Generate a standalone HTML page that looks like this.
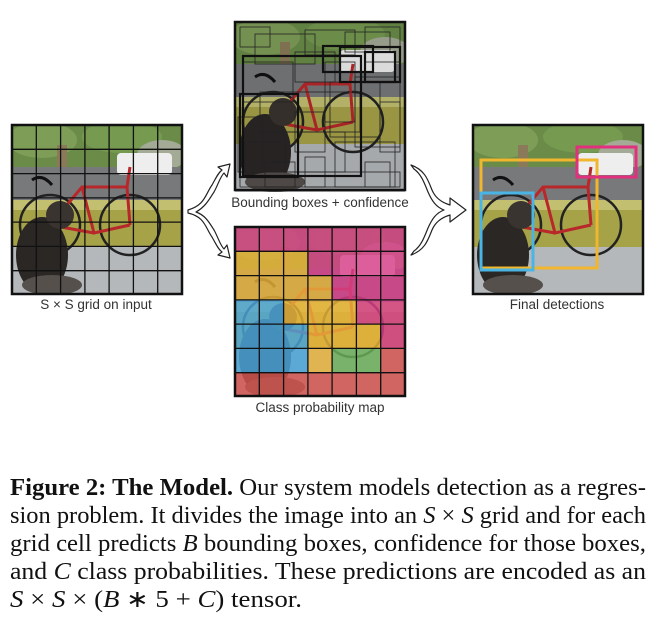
<!DOCTYPE html>
<html><head><meta charset="utf-8"><style>
html,body{margin:0;padding:0;background:#fff;}
svg{display:block;}
</style></head><body>
<svg width="666" height="636" viewBox="0 0 666 636" xmlns="http://www.w3.org/2000/svg">
<defs>
<clipPath id="pc"><rect x="0" y="0" width="170" height="170"/></clipPath>
<g id="photo">
 <g clip-path="url(#pc)">
 <rect x="0" y="0" width="170" height="170" fill="#7a8866"/>
 <rect x="0" y="0" width="170" height="45" fill="#6a8c48"/>
 <ellipse cx="30" cy="15" rx="35" ry="18" fill="#7e9e58"/>
 <ellipse cx="110" cy="12" rx="40" ry="16" fill="#769a50"/>
 <ellipse cx="150" cy="30" rx="25" ry="15" fill="#a3aa95"/>
 <rect x="45" y="20" width="10" height="55" fill="#8a7a5a"/>
 <rect x="0" y="42" width="170" height="35" fill="#77797b"/>
 <rect x="105" y="28" width="55" height="22" rx="4" fill="#eeeeee"/>
 <rect x="0" y="75" width="170" height="10" fill="#c2c070"/>
 <rect x="0" y="85" width="170" height="40" fill="#a6a248"/>
 <rect x="0" y="122" width="170" height="48" fill="#b5b8bb"/>
 <circle cx="38" cy="100" r="30" fill="none" stroke="#222" stroke-width="2.5"/>
 <circle cx="118" cy="100" r="30" fill="none" stroke="#222" stroke-width="2.5"/>
 <path d="M38 100 L70 62 L115 62 L118 100 M70 62 L82 108 L118 100 M82 108 L38 100 M115 62 L118 42" fill="none" stroke="#b8282a" stroke-width="3"/>
 <path d="M20 55 Q30 48 40 60" fill="none" stroke="#111" stroke-width="3"/>
 <ellipse cx="30" cy="130" rx="26" ry="38" fill="#2a2725"/>
 <ellipse cx="48" cy="90" rx="14" ry="14" fill="#3a3430"/>
 <ellipse cx="40" cy="160" rx="30" ry="10" fill="#55504c"/>
 </g>
</g>
<g id="grid" fill="none" stroke="#111" stroke-width="1.3">
 <path d="M24.3 0V170M48.6 0V170M72.9 0V170M97.1 0V170M121.4 0V170M145.7 0V170M0 24.3H170M0 48.6H170M0 72.9H170M0 97.1H170M0 121.4H170M0 145.7H170"/>
</g>
</defs>

<g transform="translate(12,125)">
 <use href="#photo"/>
 <use href="#grid"/>
 <rect x="0" y="0" width="170" height="169" fill="none" stroke="#111" stroke-width="2.5"/>
</g>

<g transform="translate(235,22)">
 <use href="#photo"/>
 <rect x="0" y="0" width="170" height="168" fill="#000" opacity="0.08"/>
 <g fill="none" stroke="#222" stroke-width="0.8">
  <rect x="5" y="5" width="30" height="20"/><rect x="20" y="12" width="60" height="30"/><rect x="70" y="8" width="50" height="25"/>
  <rect x="110" y="10" width="45" height="20"/><rect x="130" y="5" width="35" height="35"/><rect x="60" y="30" width="40" height="30"/>
  <rect x="8" y="40" width="50" height="40"/><rect x="90" y="40" width="30" height="60"/><rect x="120" y="55" width="45" height="70"/>
  <rect x="10" y="120" width="40" height="30"/><rect x="50" y="110" width="60" height="40"/><rect x="100" y="120" width="60" height="45"/>
  <rect x="30" y="140" width="30" height="25"/><rect x="70" y="135" width="20" height="30"/><rect x="130" y="140" width="25" height="25"/>
  <rect x="145" y="80" width="20" height="50"/><rect x="5" y="150" width="160" height="15"/><rect x="25" y="70" width="100" height="40"/>
  <rect x="95" y="60" width="50" height="55"/><rect x="3" y="95" width="25" height="55"/><rect x="60" y="90" width="30" height="40"/>
 </g>
 <g fill="none" stroke="#111" stroke-width="2.2">
  <rect x="8" y="34" width="118" height="120"/>
  <rect x="5" y="72" width="58" height="83"/>
  <rect x="105" y="25" width="60" height="35"/>
  <rect x="88" y="24" width="50" height="26"/>
  <rect x="130" y="30" width="30" height="30"/>
 </g>
 <rect x="0" y="0" width="170" height="168" fill="none" stroke="#111" stroke-width="2.5"/>
</g>

<g transform="translate(235,227)">
 <use href="#photo"/>
 <g opacity="0.82">
  <rect x="0" y="0" width="170" height="24.3" fill="#d93f8a"/>
  <rect x="0" y="24.3" width="72.9" height="24.3" fill="#eab43a"/><rect x="72.9" y="24.3" width="97.1" height="24.3" fill="#d93f8a"/>
  <rect x="0" y="48.6" width="97.1" height="24.3" fill="#eab43a"/><rect x="97.1" y="48.6" width="72.9" height="24.3" fill="#d93f8a"/>
  <rect x="0" y="72.9" width="48.6" height="24.3" fill="#4aa6dc"/><rect x="48.6" y="72.9" width="72.8" height="24.3" fill="#eab43a"/><rect x="121.4" y="72.9" width="48.6" height="24.3" fill="#d93f8a"/>
  <rect x="0" y="97.1" width="72.9" height="24.3" fill="#4aa6dc"/><rect x="72.9" y="97.1" width="72.8" height="24.3" fill="#eab43a"/><rect x="145.7" y="97.1" width="24.3" height="24.3" fill="#d93f8a"/>
  <rect x="0" y="121.4" width="72.9" height="24.3" fill="#4aa6dc"/><rect x="72.9" y="121.4" width="24.2" height="24.3" fill="#eab43a"/><rect x="97.1" y="121.4" width="48.6" height="24.3" fill="#6db35a"/><rect x="145.7" y="121.4" width="24.3" height="24.3" fill="#d6534e"/>
  <rect x="0" y="145.7" width="170" height="24.3" fill="#d6534e"/>
 </g>
 <use href="#grid"/>
 <rect x="0" y="0" width="170" height="169" fill="none" stroke="#111" stroke-width="2.5"/>
</g>

<g transform="translate(473,125)">
 <use href="#photo"/>
 <rect x="8" y="35" width="116" height="108" fill="none" stroke="#f0b62e" stroke-width="3"/>
 <rect x="104" y="22" width="59" height="30" fill="none" stroke="#e0307e" stroke-width="3"/>
 <rect x="8" y="68" width="52" height="77" fill="none" stroke="#4ab4e4" stroke-width="3"/>
 <rect x="0" y="0" width="170" height="169" fill="none" stroke="#111" stroke-width="2.5"/>
</g>

<g fill="#fff" stroke="#222" stroke-width="1.2" stroke-linejoin="round">
 <path d="M188 210 C205 205 205 195 212 185 C216 178 218 173 222 170 L218 167 L230 164 L227 177 L224 173 C220 177 218 185 214 192 C209 200 205 207 196 212 C205 215 209 222 214 230 C218 237 220 245 224 249 L227 245 L230 258 L218 255 L222 252 C218 249 216 244 212 237 C205 227 205 217 188 213 Z"/>
</g>
<g fill="#fff" stroke="#222" stroke-width="1.2" stroke-linejoin="round">
 <path d="M411 165 C425 170 428 180 432 190 C435 197 440 202 450 205 L450 198 L466 210 L450 222 L450 215 C440 218 435 223 432 230 C428 240 425 250 411 255 L414 251 C421 246 424 238 428 228 C432 219 436 213 444 210 C436 207 432 201 428 192 C424 182 421 174 414 169 Z"/>
</g>

<g font-family="'Liberation Sans', sans-serif" font-size="13.5" fill="#333" text-anchor="middle">
 <text x="96" y="309">S × S grid on input</text>
 <text x="320" y="207">Bounding boxes + confidence</text>
 <text x="320" y="412">Class probability map</text>
 <text x="557" y="309">Final detections</text>
</g>

<g font-family="'Liberation Serif', serif" font-size="24" fill="#111">
 <text x="10" y="495" textLength="636" lengthAdjust="spacingAndGlyphs"><tspan font-weight="bold">Figure 2: The Model.</tspan> Our system models detection as a regres-</text>
 <text x="10" y="523" textLength="636" lengthAdjust="spacingAndGlyphs">sion problem. It divides the image into an <tspan font-style="italic">S</tspan> × <tspan font-style="italic">S</tspan> grid and for each</text>
 <text x="10" y="551" textLength="636" lengthAdjust="spacingAndGlyphs">grid cell predicts <tspan font-style="italic">B</tspan> bounding boxes, confidence for those boxes,</text>
 <text x="10" y="579" textLength="636" lengthAdjust="spacingAndGlyphs">and <tspan font-style="italic">C</tspan> class probabilities.  These predictions are encoded as an</text>
 <text x="10" y="607" textLength="292" lengthAdjust="spacingAndGlyphs"><tspan font-style="italic">S</tspan> × <tspan font-style="italic">S</tspan> × (<tspan font-style="italic">B</tspan> ∗ 5 + <tspan font-style="italic">C</tspan>) tensor.</text>
</g>
</svg>
</body></html>
